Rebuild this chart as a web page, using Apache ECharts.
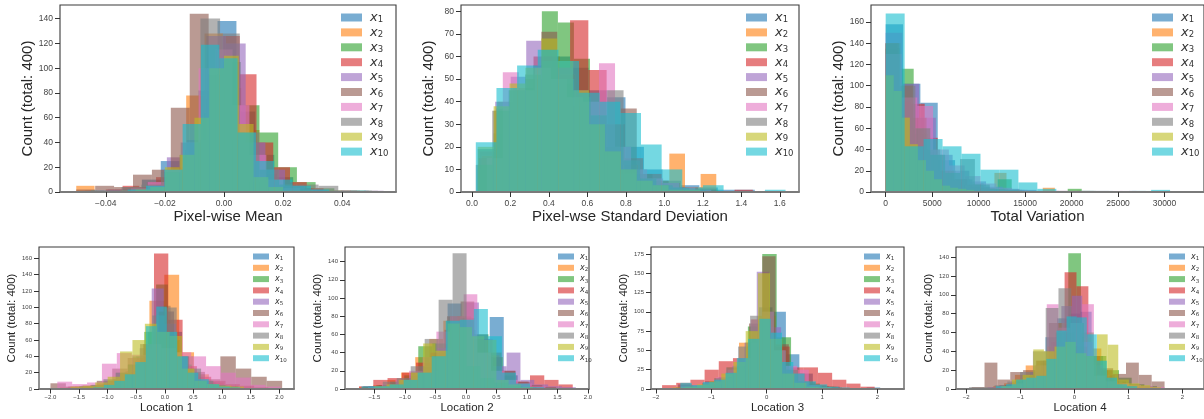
<!DOCTYPE html>
<html>
<head>
<meta charset="utf-8">
<script src="https://cdn.jsdelivr.net/npm/echarts@6/dist/echarts.min.js"></script>
<style>
  html, body { margin: 0; padding: 0; background: #fff; }
  #chart { width: 1204px; height: 419px; }
</style>
</head>
<body>
<div id="chart"></div>
<script>
// series names, matplotlib tab10 at alpha 0.6
const names = ['x1', 'x2', 'x3', 'x4', 'x5', 'x6', 'x7', 'x8', 'x9', 'x10'];
const colors = ['rgba(31,119,180,0.6)', 'rgba(255,127,14,0.6)', 'rgba(44,160,44,0.6)', 'rgba(214,39,40,0.6)',
  'rgba(148,103,189,0.6)', 'rgba(140,86,75,0.6)', 'rgba(227,119,194,0.6)', 'rgba(127,127,127,0.6)',
  'rgba(188,189,34,0.6)', 'rgba(23,190,207,0.6)'];

// every histogram: 15 bins between lo and hi (one entry per series)

// Pixel-wise Mean
const meanLo = [-0.047, -0.050, -0.045, -0.040, -0.046, -0.050, -0.043, -0.048, -0.035, -0.045];
const meanHi = [0.049, 0.043, 0.050, 0.045, 0.054, 0.046, 0.043, 0.052, 0.040, 0.048];
const meanCounts = [
  [1, 0, 2, 10, 25, 30, 82, 138, 65, 30, 12, 3, 1, 0, 1],
  [5, 0, 1, 2, 8, 20, 78, 128, 84, 50, 15, 5, 3, 0, 1],
  [1, 1, 2, 4, 10, 34, 64, 105, 70, 48, 20, 8, 3, 1, 1],
  [2, 5, 4, 12, 20, 40, 75, 126, 95, 40, 20, 8, 3, 1, 1],
  [1, 2, 3, 8, 28, 42, 126, 120, 40, 18, 5, 2, 1, 0, 1],
  [2, 5, 4, 14, 18, 68, 144, 95, 42, 8, 4, 2, 1, 0, 1],
  [1, 1, 3, 8, 18, 40, 100, 115, 70, 30, 10, 3, 1, 0, 1],
  [1, 1, 4, 6, 16, 40, 140, 128, 48, 18, 6, 6, 5, 1, 1],
  [1, 2, 4, 20, 30, 60, 100, 110, 55, 12, 4, 1, 1, 0, 1],
  [1, 1, 2, 5, 18, 55, 119, 108, 48, 25, 10, 5, 2, 1, 1]
];

// Pixel-wse Standard Deviation
const stdLo = [0.03, 0.05, 0.03, 0.035, 0.04, 0.03, 0.077, 0.02, 0.03, 0.02];
const stdHi = [1.47, 1.27, 1.28, 1.46, 1.25, 1.27, 1.327, 1.30, 1.27, 1.63];
const stdCounts = [
  [19, 37, 44, 56, 60, 55, 45, 42, 20, 10, 5, 3, 2, 1, 1],
  [16, 40, 46, 50, 60, 52, 40, 26, 18, 12, 6, 5, 17, 2, 8],
  [10, 26, 36, 46, 80, 75, 59, 30, 20, 8, 4, 3, 2, 1, 1],
  [15, 35, 45, 60, 55, 76, 54, 30, 15, 8, 4, 2, 1, 0, 1],
  [18, 40, 51, 67, 60, 55, 45, 30, 16, 8, 5, 3, 1, 1, 0],
  [12, 36, 45, 50, 71, 48, 38, 28, 18, 37, 8, 5, 2, 1, 1],
  [15, 53, 45, 55, 50, 42, 40, 57, 20, 10, 6, 4, 2, 1, 0],
  [12, 36, 45, 52, 58, 50, 42, 34, 45, 14, 6, 3, 2, 1, 0],
  [20, 38, 48, 55, 68, 58, 45, 30, 18, 10, 5, 3, 1, 1, 0],
  [22, 46, 56, 63, 58, 44, 40, 35, 21, 10, 2, 3, 0, 0, 1]
];

// Total Variation
const tvLo = [0, 0, 0, 0, 0, 0, 0, 0, 0, 0];
const tvHi = [28000, 19500, 22600, 21000, 27000, 22000, 25500, 24000, 13000, 30600];
const tvCounts = [
  [158, 102, 84, 30, 12, 5, 3, 2, 1, 1, 0, 1, 0, 0, 1],
  [140, 95, 60, 38, 20, 10, 6, 3, 2, 18, 2, 1, 1, 4, 0],
  [135, 116, 55, 35, 20, 12, 8, 3, 12, 0, 0, 0, 0, 3, 1],
  [140, 85, 83, 51, 20, 10, 4, 3, 1, 1, 0, 0, 0, 1, 1],
  [150, 102, 70, 35, 20, 10, 5, 3, 2, 1, 1, 0, 0, 0, 1],
  [140, 100, 70, 40, 20, 12, 7, 4, 3, 2, 1, 0, 0, 0, 1],
  [130, 89, 81, 40, 25, 15, 8, 4, 2, 1, 1, 1, 1, 1, 1],
  [140, 100, 60, 35, 18, 31, 7, 3, 2, 1, 1, 0, 0, 1, 1],
  [110, 95, 70, 45, 30, 20, 12, 6, 4, 3, 2, 1, 1, 0, 1],
  [168, 43, 50, 43, 36, 21, 21, 9, 3, 1, 1, 1, 0, 1, 2]
];

// Location 1
const loc1Lo = [-1.5, -1.83, -1.6, -1.69, -1.7, -2.0, -1.88, -1.5, -1.65, -1.25];
const loc1Hi = [1.5, 2.07, 1.5, 2.06, 1.45, 2.05, 2.02, 1.7, 1.6, 1.5];
const loc1Counts = [
  [2, 4, 6, 12, 20, 40, 70, 102, 70, 40, 18, 8, 4, 3, 1],
  [2, 3, 5, 10, 18, 35, 108, 140, 45, 18, 8, 4, 2, 1, 1],
  [2, 3, 5, 10, 20, 40, 70, 128, 60, 30, 15, 8, 5, 3, 1],
  [3, 4, 6, 10, 22, 38, 166, 85, 28, 15, 10, 6, 4, 2, 1],
  [2, 3, 5, 8, 20, 30, 50, 123, 80, 40, 20, 10, 5, 3, 1],
  [7, 3, 4, 10, 25, 38, 55, 95, 40, 21, 12, 40, 25, 15, 10],
  [9, 6, 8, 31, 44, 42, 55, 50, 45, 40, 28, 20, 14, 5, 3],
  [3, 5, 12, 20, 30, 55, 90, 100, 40, 25, 10, 5, 3, 1, 1],
  [3, 4, 8, 15, 46, 60, 80, 70, 65, 25, 10, 6, 4, 3, 1],
  [2, 5, 10, 18, 33, 77, 101, 70, 40, 20, 12, 6, 3, 2, 1]
];

// Location 2
const loc2Lo = [-1.68, -1.75, -1.7, -1.75, -1.6, -1.65, -1.6, -1.59, -1.5, -1.71];
const loc2Hi = [1.77, 1.7, 1.75, 1.75, 1.8, 1.7, 1.75, 1.84, 1.5, 1.74];
const loc2Counts = [
  [3, 4, 6, 10, 20, 40, 94, 65, 55, 79, 15, 5, 2, 1, 1],
  [2, 4, 10, 18, 35, 55, 75, 80, 55, 37, 15, 8, 4, 1, 1],
  [2, 4, 8, 15, 47, 50, 75, 78, 60, 35, 15, 6, 3, 1, 1],
  [3, 10, 12, 18, 29, 40, 65, 75, 55, 35, 20, 8, 15, 10, 5],
  [3, 3, 7, 12, 20, 45, 75, 95, 55, 25, 40, 10, 5, 3, 2],
  [2, 4, 6, 12, 25, 40, 80, 96, 60, 40, 20, 8, 4, 2, 1],
  [2, 5, 10, 20, 35, 63, 80, 104, 40, 20, 10, 6, 3, 1, 1],
  [3, 8, 12, 25, 55, 98, 149, 25, 12, 7, 3, 2, 0, 0, 1],
  [3, 5, 10, 18, 50, 42, 72, 68, 58, 54, 10, 5, 2, 1, 1],
  [3, 3, 5, 10, 18, 36, 75, 76, 88, 58, 18, 6, 2, 1, 1]
];

// Location 3
const loc3Lo = [-1.6, -1.6, -1.64, -1.89, -1.5, -1.52, -1.55, -1.6, -1.7, -1.56];
const loc3Hi = [2.05, 1.7, 2.26, 1.95, 1.8, 2.08, 1.6, 1.65, 1.6, 1.5];
const loc3Counts = [
  [6, 5, 10, 15, 22, 60, 106, 100, 45, 20, 5, 3, 1, 0, 2],
  [2, 4, 7, 14, 28, 60, 90, 95, 55, 25, 10, 5, 3, 1, 1],
  [2, 3, 6, 12, 22, 81, 175, 67, 20, 7, 3, 1, 0, 0, 1],
  [5, 8, 12, 25, 36, 40, 55, 65, 55, 28, 28, 21, 12, 7, 3],
  [2, 4, 8, 15, 30, 60, 152, 80, 30, 10, 5, 2, 1, 0, 1],
  [2, 4, 6, 10, 25, 85, 172, 58, 20, 9, 4, 2, 1, 1, 1],
  [3, 5, 8, 15, 25, 40, 90, 100, 50, 30, 25, 5, 2, 1, 1],
  [2, 4, 8, 14, 28, 55, 95, 100, 50, 25, 10, 5, 2, 1, 1],
  [2, 3, 6, 10, 20, 35, 75, 150, 65, 20, 8, 3, 2, 0, 1],
  [8, 5, 9, 12, 21, 40, 65, 91, 73, 35, 20, 10, 6, 3, 2]
];

// Location 4
const loc4Lo = [-1.6, -1.5, -1.52, -1.5, -1.4, -1.9, -1.6, -1.95, -1.35, -1.45];
const loc4Hi = [1.6, 1.5, 2.0, 1.8, 1.5, 1.67, 1.67, 1.6, 1.6, 1.35];
const loc4Counts = [
  [2, 4, 6, 12, 20, 55, 75, 80, 82, 35, 15, 8, 3, 2, 1],
  [3, 6, 15, 25, 30, 45, 70, 75, 55, 43, 20, 7, 3, 2, 1],
  [2, 4, 8, 15, 30, 60, 144, 60, 35, 20, 12, 5, 3, 1, 1],
  [2, 4, 8, 14, 28, 50, 124, 109, 35, 14, 6, 3, 1, 1, 1],
  [2, 5, 10, 18, 30, 50, 88, 99, 50, 25, 12, 6, 3, 1, 1],
  [2, 28, 10, 18, 20, 30, 70, 60, 45, 28, 22, 16, 28, 15, 8],
  [2, 3, 6, 12, 25, 90, 65, 70, 90, 14, 8, 6, 4, 3, 2],
  [2, 2, 4, 8, 18, 40, 86, 107, 70, 35, 15, 8, 3, 1, 1],
  [3, 10, 15, 42, 40, 45, 50, 38, 35, 58, 47, 10, 6, 4, 2],
  [3, 5, 10, 12, 14, 32, 62, 77, 76, 58, 30, 12, 5, 3, 1]
];

// tick values
const meanXTicks = [-0.04, -0.02, 0, 0.02, 0.04];
const stdXTicks = [0, 0.2, 0.4, 0.6, 0.8, 1.0, 1.2, 1.4, 1.6];
const tvXTicks = [0, 5000, 10000, 15000, 20000, 25000, 30000];
const locHalfTicks = [-2, -1.5, -1, -0.5, 0, 0.5, 1, 1.5, 2];
const locIntTicks = [-2, -1, 0, 1, 2];
const yTicks140 = [0, 20, 40, 60, 80, 100, 120, 140];
const yTicks80 = [0, 10, 20, 30, 40, 50, 60, 70, 80];
const yTicks160 = [0, 20, 40, 60, 80, 100, 120, 140, 160];
const yTicks175 = [0, 25, 50, 75, 100, 125, 150, 175];

const FONT = '"Liberation Sans", Arial, sans-serif';

const panels = [
  { lo: meanLo, hi: meanHi, counts: meanCounts, xTicks: meanXTicks, xDec: 2, yTicks: yTicks140, title: 'Pixel-wise Mean',
    grid: { left: 60, top: 5, width: 336, height: 187 }, xMin: -0.0555, xMax: 0.0582, yMax: 151, big: true, legendLeft: 341 },
  { lo: stdLo, hi: stdHi, counts: stdCounts, xTicks: stdXTicks, xDec: 1, yTicks: yTicks80, title: 'Pixel-wse Standard Deviation',
    grid: { left: 461, top: 5, width: 338, height: 187 }, xMin: -0.057, xMax: 1.70, yMax: 82.8, big: true, legendLeft: 746 },
  { lo: tvLo, hi: tvHi, counts: tvCounts, xTicks: tvXTicks, xDec: 0, yTicks: yTicks160, title: 'Total Variation',
    grid: { left: 871, top: 5, width: 340, height: 187 }, xMin: -1580, xMax: 34250, yMax: 176, big: true, legendLeft: 1152 },
  { lo: loc1Lo, hi: loc1Hi, counts: loc1Counts, xTicks: locHalfTicks, xDec: 1, yTicks: yTicks160, title: 'Location 1',
    grid: { left: 39, top: 247, width: 255, height: 142 }, xMin: -2.2, xMax: 2.257, yMax: 174, big: false, legendLeft: 253 },
  { lo: loc2Lo, hi: loc2Hi, counts: loc2Counts, xTicks: locHalfTicks, xDec: 1, yTicks: yTicks140, title: 'Location 2',
    grid: { left: 345, top: 247, width: 244, height: 142 }, xMin: -1.98, xMax: 2.016, yMax: 156, big: false, legendLeft: 558 },
  { lo: loc3Lo, hi: loc3Hi, counts: loc3Counts, xTicks: locIntTicks, xDec: 0, yTicks: yTicks175, title: 'Location 3',
    grid: { left: 651, top: 247, width: 253, height: 142 }, xMin: -2.09, xMax: 2.48, yMax: 184, big: false, legendLeft: 864 },
  { lo: loc4Lo, hi: loc4Hi, counts: loc4Counts, xTicks: locIntTicks, xDec: 0, yTicks: yTicks140, title: 'Location 4',
    grid: { left: 956, top: 247, width: 254, height: 142 }, xMin: -2.19, xMax: 2.40, yMax: 150.7, big: false, legendLeft: 1169 }
];

function fmt(v, d) {
  const s = Math.abs(v).toFixed(d);
  return (v < -1e-9 ? '\u2212' : '') + s;
}

function renderBar(params, api) {
  const top = api.coord([api.value(0), api.value(2)]);
  const bottom = api.coord([api.value(1), 0]);
  return {
    type: 'rect',
    shape: { x: top[0], y: top[1], width: bottom[0] - top[0], height: bottom[1] - top[1] },
    style: { fill: api.visual('color') }
  };
}

const option = { animation: false, grid: [], xAxis: [], yAxis: [], legend: [], series: [] };

panels.forEach(function (p, k) {
  const big = p.big;
  option.grid.push(Object.assign({ show: true, borderColor: '#3a3a3a', borderWidth: 1.1 }, p.grid));
  option.xAxis.push({
    type: 'value', gridIndex: k, min: p.xMin, max: p.xMax, z: 5,
    name: p.title, nameLocation: 'middle', nameGap: big ? 17 : 12,
    nameTextStyle: { fontFamily: FONT, fontSize: big ? 15 : 11.5, color: '#262626' },
    axisLine: { show: true, onZero: false, lineStyle: { color: '#7a7a7a', width: 1.8 } },
    axisTick: { show: true, customValues: p.xTicks, length: big ? 5 : 4.5, lineStyle: { color: '#333', width: 1 } },
    axisLabel: { customValues: p.xTicks, formatter: function (v) { return fmt(v, p.xDec); },
      fontFamily: FONT, fontSize: big ? 8.5 : 6, color: '#444', margin: big ? 7 : 5.5 },
    splitLine: { show: false }
  });
  option.yAxis.push({
    type: 'value', gridIndex: k, min: 0, max: p.yMax, z: 5,
    name: 'Count (total: 400)', nameLocation: 'middle', nameGap: big ? 25 : 19.5,
    nameTextStyle: { fontFamily: FONT, fontSize: big ? 15 : 11.5, color: '#262626' },
    axisLine: { show: false, onZero: false },
    axisTick: { show: true, customValues: p.yTicks, length: 5, lineStyle: { color: '#333', width: 1 } },
    axisLabel: { customValues: p.yTicks, formatter: function (v) { return String(v); },
      fontFamily: FONT, fontSize: big ? 8.5 : 6, color: '#444', margin: 7 },
    splitLine: { show: false }
  });
  for (let i = 0; i < names.length; i++) {
    const n = p.counts[i].length;
    const w = (p.hi[i] - p.lo[i]) / n;
    const data = p.counts[i].map(function (c, b) {
      return [p.lo[i] + b * w, p.lo[i] + (b + 1) * w, c];
    });
    option.series.push({
      type: 'custom', name: names[i], xAxisIndex: k, yAxisIndex: k, clip: true,
      renderItem: renderBar, data: data, encode: { x: [0, 1], y: 2 },
      itemStyle: { color: colors[i] }, silent: true
    });
  }
  option.legend.push({
    data: names, orient: 'vertical', left: p.legendLeft, top: big ? 11 : 252.5,
    icon: 'rect', itemWidth: big ? 21 : 16, itemHeight: big ? 8 : 6, itemGap: big ? 1.4 : 2.3,
    padding: 0, selectedMode: false,
    formatter: function (name) { return '{x|x}{s|' + name.slice(1) + '}'; },
    textStyle: {
      rich: {
        x: { fontFamily: 'DejaVu Sans', fontStyle: 'italic', fontSize: big ? 13 : 8, lineHeight: big ? 14 : 10,
          color: '#333', padding: [0, 0, 0, big ? 3 : 1] },
        s: { fontFamily: 'DejaVu Sans', fontSize: big ? 8.5 : 5.5, lineHeight: big ? 8.5 : 5.5,
          verticalAlign: 'bottom', color: '#333' }
      }
    }
  });
});

const chart = echarts.init(document.getElementById('chart'), null, { renderer: 'canvas' });
chart.setOption(option);
</script>
</body>
</html>
